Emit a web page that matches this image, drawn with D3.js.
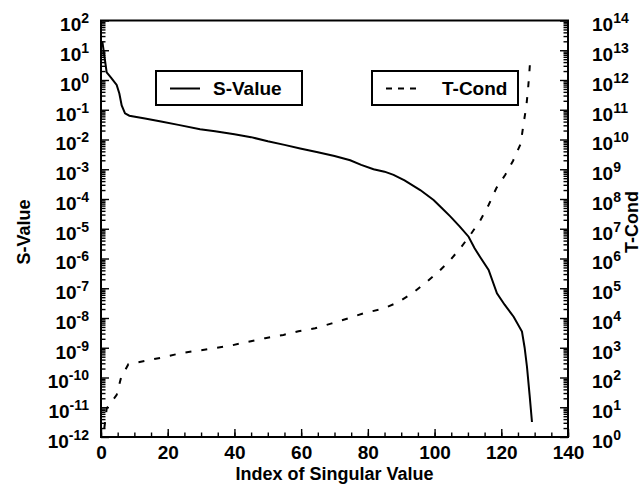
<!DOCTYPE html>
<html>
<head>
<meta charset="UTF-8">
<title>S-Value / T-Cond</title>
<script src="https://d3js.org/d3.v7.min.js"></script>
<style>
  body { margin: 0; background: #fff; }
  svg text { font-family: 'Liberation Sans', Arial, sans-serif; font-weight: bold; fill: #000; }
</style>
</head>
<body>
<div id="chart"></div>
<script>
// singular value index
const sIndex = [0.4, 1.7, 3.0, 4.7, 5.5, 6.2, 7.2, 8.5, 13.2, 18, 23.2, 29.7, 34.2, 40, 45, 50, 55, 59.7, 65, 70,
  74.7, 78, 81.7, 85, 87.7, 91, 95.7, 99.7, 102, 104.7, 107.5, 110.2, 112, 113.7, 116.2, 118.7, 121, 123.7,
  126.2, 127, 127.7, 128.5, 129.2];
// S-Value (left axis)
const sValue = [2.0e1, 1.8e0, 1.2e0, 6.8e-1, 3.5e-1, 1.4e-1, 7.6e-2, 6.3e-2, 5.1e-2, 4.0e-2, 3.1e-2, 2.2e-2, 1.9e-2,
  1.5e-2, 1.2e-2, 8.7e-3, 6.6e-3, 5.0e-3, 3.7e-3, 2.8e-3, 2.0e-3, 1.4e-3, 1.0e-3, 8.3e-4, 6.5e-4, 4.2e-4,
  2.0e-4, 9.3e-5, 5.2e-5, 2.6e-5, 1.2e-5, 5.4e-6, 2.2e-6, 1.1e-6, 4.1e-7, 6.8e-8, 2.8e-8, 1.1e-8,
  3.5e-9, 1.0e-9, 2.3e-10, 2.5e-11, 3.2e-12];

const tIndex = [1.0, 1.7, 4.7, 6.0, 8.2, 13.7, 18.7, 23.7, 28.7, 33.7, 39.2, 44.2, 49.2, 54.7, 59.2, 64.2, 69.2,
  74.2, 79.2, 84.2, 88.9, 93.2, 97.2, 101, 104.7, 107.7, 110.7, 113.7, 116.2, 118.5, 121.2, 123.5, 125.8,
  126.7, 127.5, 128, 128.4, 128.7];
// T-Cond (right axis)
const tValue = [2.0e0, 9.1e0, 2.6e1, 9.8e1, 2.8e2, 3.7e2, 4.8e2, 6.5e2, 7.9e2, 9.5e2, 1.2e3, 1.6e3, 2.1e3, 2.7e3,
  3.6e3, 4.5e3, 6.6e3, 9.8e3, 1.5e4, 2.0e4, 3.3e4, 6.6e4, 1.5e5, 3.4e5, 8.9e5, 2.2e6, 6.2e6, 1.9e7, 6.3e7,
  2.3e8, 6.5e8, 1.9e9, 7.1e9, 3.5e10, 1.3e11, 4.6e11, 1.7e12, 5.4e12];

const xTicks = [0, 20, 40, 60, 80, 100, 120, 140];
const leftExp = d3.range(-12, 3);
const rightExp = d3.range(0, 15);

const width = 643;
const height = 491;
const plotL = 101, plotR = 568, plotT = 20.5, plotB = 437;

const svg = d3.select('#chart')
  .append('svg')
  .attr('width', width)
  .attr('height', height);

const x = d3.scaleLinear().domain([0, 140]).range([plotL, plotR]);
const yS = d3.scaleLog().domain([1e-12, 1e2]).range([plotB, plotT]);
const yT = d3.scaleLog().domain([1e0, 1e14]).range([plotB, plotT]);

// minor ticks 2..9 for each decade
const minors = (lo, hi) => {
  const out = [];
  for (let e = lo; e < hi; e++) {
    for (let m = 2; m < 10; m++) out.push(m * Math.pow(10, e));
  }
  return out;
};

const supLabel = (sel, exps) => {
  sel.selectAll('.tick text').each(function (d, i) {
    const t = d3.select(this).text('');
    t.append('tspan').text('10');
    t.append('tspan').attr('dy', -8).attr('font-size', 14).text(exps[i]);
  });
};

// x axis
svg.append('g')
  .attr('transform', `translate(0,${plotB})`)
  .call(d3.axisBottom(x).tickValues(d3.range(0, 141, 5)).tickSize(-4.5).tickSizeOuter(0).tickFormat(''))
  .call((g) => g.select('.domain').remove());
svg.append('g')
  .attr('transform', `translate(0,${plotB})`)
  .call(d3.axisBottom(x).tickValues(xTicks).tickSize(-8).tickSizeOuter(0).tickPadding(9))
  .call((g) => g.select('.domain').remove())
  .selectAll('text').attr('font-size', 19);

// left axis
svg.append('g')
  .attr('transform', `translate(${plotL},0)`)
  .call(d3.axisLeft(yS).tickValues(minors(-12, 2)).tickSize(-4.5).tickSizeOuter(0).tickFormat(''))
  .call((g) => g.select('.domain').remove());
const gl = svg.append('g')
  .attr('transform', `translate(${plotL},0)`)
  .call(d3.axisLeft(yS).tickValues(leftExp.map((e) => Math.pow(10, e))).tickSize(-8).tickSizeOuter(0).tickPadding(12))
  .call((g) => g.select('.domain').remove());
gl.selectAll('text').attr('font-size', 19).attr('dy', '0.55em');
supLabel(gl, leftExp);

// right axis
svg.append('g')
  .attr('transform', `translate(${plotR},0)`)
  .call(d3.axisRight(yT).tickValues(minors(0, 14)).tickSize(-4.5).tickSizeOuter(0).tickFormat(''))
  .call((g) => g.select('.domain').remove());
const gr = svg.append('g')
  .attr('transform', `translate(${plotR},0)`)
  .call(d3.axisRight(yT).tickValues(rightExp.map((e) => Math.pow(10, e))).tickSize(-8).tickSizeOuter(0).tickPadding(24))
  .call((g) => g.select('.domain').remove());
gr.selectAll('text').attr('font-size', 19).attr('dy', '0.55em');
supLabel(gr, rightExp);

svg.selectAll('.tick line').attr('stroke', '#000').attr('stroke-width', 1.4);

// frame
svg.append('rect')
  .attr('x', plotL).attr('y', plotT)
  .attr('width', plotR - plotL).attr('height', plotB - plotT)
  .attr('fill', 'none').attr('stroke', '#000').attr('stroke-width', 2);

// curves
const sLine = d3.line().x((d, i) => x(sIndex[i])).y((d) => yS(d));
const tLine = d3.line().x((d, i) => x(tIndex[i])).y((d) => yT(d));

svg.append('path')
  .datum(sValue)
  .attr('fill', 'none').attr('stroke', '#000').attr('stroke-width', 2)
  .attr('d', sLine);

svg.append('path')
  .datum(tValue)
  .attr('fill', 'none').attr('stroke', '#000').attr('stroke-width', 2)
  .attr('stroke-dasharray', '6,10')
  .attr('d', tLine);

// legend boxes
const legend = [
  { name: 'S-Value', x0: 156, dash: null },
  { name: 'T-Cond', x0: 372, dash: '6,6' }
];
legend.forEach((l) => {
  const g = svg.append('g').attr('transform', `translate(${l.x0},71)`);
  g.append('rect').attr('width', 146).attr('height', 34)
    .attr('fill', '#fff').attr('stroke', '#000').attr('stroke-width', 2);
  g.append('line').attr('x1', 14).attr('x2', 44).attr('y1', 17.5).attr('y2', 17.5)
    .attr('stroke', '#000').attr('stroke-width', 2)
    .attr('stroke-dasharray', l.dash);
  g.append('text').attr('x', l.dash ? 70 : 57).attr('y', 24).attr('font-size', 19).text(l.name);
});

// axis titles
svg.append('text')
  .attr('x', (plotL + plotR) / 2).attr('y', 480)
  .attr('text-anchor', 'middle').attr('font-size', 18)
  .text('Index of Singular Value');

svg.append('text')
  .attr('transform', 'translate(30,232) rotate(-90)')
  .attr('text-anchor', 'middle').attr('font-size', 18)
  .text('S-Value');

svg.append('text')
  .attr('transform', 'translate(638,222) rotate(-90)')
  .attr('text-anchor', 'middle').attr('font-size', 18)
  .text('T-Cond');
</script>
</body>
</html>
